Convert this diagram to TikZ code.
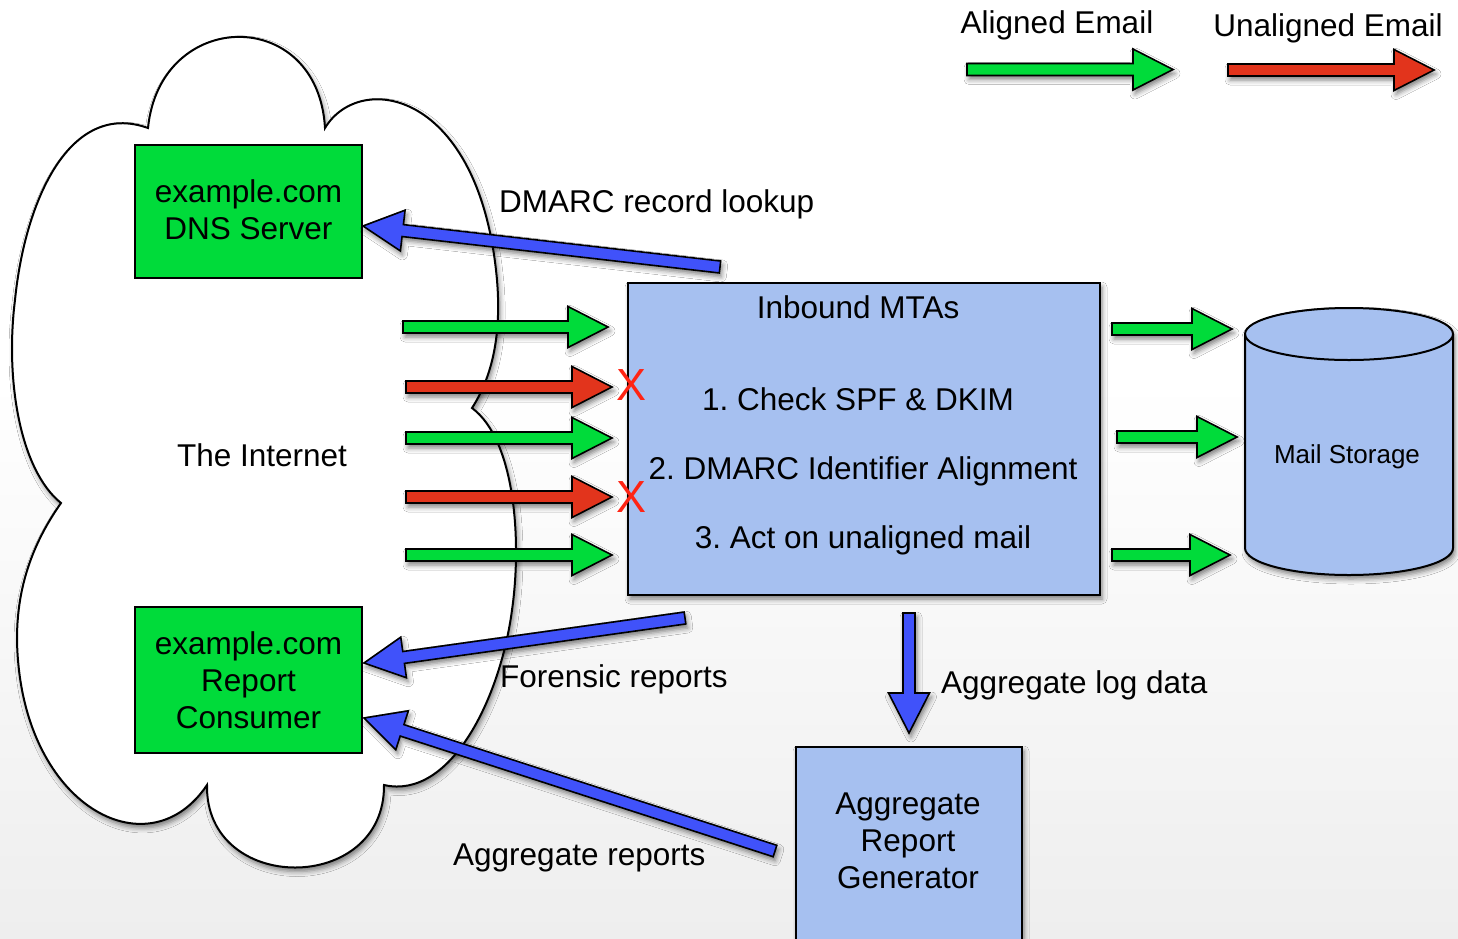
\documentclass[tikz,border=0pt]{standalone}
\usepackage{fontspec}
\setmainfont{Liberation Sans}
\usetikzlibrary{calc,shadows.blur}
\frenchspacing

\definecolor{mailgreen}{RGB}{0,219,58}
\definecolor{mailred}{RGB}{226,52,28}
\definecolor{flowblue}{RGB}{64,82,250}
\definecolor{hostblue}{RGB}{166,192,240}
\definecolor{rejectred}{RGB}{255,36,20}
\definecolor{floorgray}{RGB}{238,238,238}

\tikzset{
  lbl/.style={font=\fontsize{31.5}{37}\selectfont, inner sep=0pt},
  smalllbl/.style={font=\fontsize{26}{30}\selectfont, inner sep=0pt},
  soft/.style={blur shadow={shadow xshift=2pt, shadow yshift=-4pt,
      shadow blur radius=5pt, shadow opacity=50}},
  hostbox/.style={draw=black, line width=2pt, fill=mailgreen, align=center,
      lbl, minimum width=227, minimum height=133},
  mtabox/.style={draw=black, line width=2pt, fill=hostblue, soft},
  arrowbody/.style={draw=black, line width=1.6pt, line join=miter, soft},
  reject/.style={text=rejectred, font=\fontsize{45}{45}\selectfont, inner sep=0pt},
}

% block arrow: #1 fill colour, #2 tail coordinate, #3 tip coordinate
\newcommand\blockarrow[3]{%
  \coordinate (ba-h) at ($(#3)!40pt!(#2)$);
  \filldraw[arrowbody, fill=#1]
    ($(#2)!6pt!90:(#3)$) -- ($(ba-h)!6pt!90:(#3)$) -- ($(ba-h)!20.5pt!90:(#3)$)
    -- (#3)
    -- ($(ba-h)!20.5pt!-90:(#3)$) -- ($(ba-h)!6pt!-90:(#3)$) -- ($(#2)!6pt!-90:(#3)$)
    -- cycle;
}

\begin{document}
\begin{tikzpicture}[x=1pt,y=-1pt]
\useasboundingbox (0,0) rectangle (1458,938);
\clip (0,0) rectangle (1458,938);

% background
\fill[white] (0,0) rectangle (1458,938);
\shade[top color=white, bottom color=floorgray] (0,380) rectangle (1458,938);

% the internet cloud
\draw[line width=2pt, fill=white, soft]
  (148,128) .. controls (160,8) and (318,5) .. (325,128)
  .. controls (360,70) and (480,90) .. (497,280)
  .. controls (502,340) and (490,380) .. (472,408)
  .. controls (515,440) and (522,540) .. (512,610)
  .. controls (500,700) and (450,800) .. (384,785)
  .. controls (385,895) and (205,895) .. (207,785)
  .. controls (150,870) and (30,810) .. (18,660)
  .. controls (12,590) and (35,540) .. (61,503)
  .. controls (20,470) and (5,380) .. (15,300)
  .. controls (25,200) and (70,100) .. (148,128) -- cycle;

\node[lbl, anchor=base] (internet) at (262,466) {The Internet};

% hosts inside the cloud
\node[hostbox] (dns) at (248.5,211.5) {};
\node[lbl, align=center] (dnsText) at (248.5,209.5) {example.com\\DNS Server};
\node[hostbox, minimum height=146] (consumer) at (248.5,680) {example.com\\Report\\Consumer};

% receiving side
\node[mtabox, minimum width=472, minimum height=312] (mta) at (864,439) {};
\node[lbl, anchor=base] (mtaTitle) at (858,318) {Inbound MTAs};
\node[lbl, anchor=base] (step1) at (858,410) {1. Check SPF \& DKIM};
\node[lbl, anchor=base] (step2) at (863,479) {2. DMARC Identifier Alignment};
\node[lbl, anchor=base] (step3) at (863,548) {3. Act on unaligned mail};

\node[mtabox, minimum width=226, minimum height=240] (gen) at (909,867) {};
\node[lbl, align=center] (genText) at (908,841) {Aggregate\\Report\\Generator};

% mail storage cylinder
\draw[line width=2pt, fill=hostblue, soft]
  (1245,334) -- (1245,548) arc[start angle=180, end angle=0, x radius=104, y radius=27]
  -- (1453,334) arc[start angle=0, end angle=-180, x radius=104, y radius=26] -- cycle;
\draw[line width=2pt] (1245,334) arc[start angle=180, end angle=0, x radius=104, y radius=26];
\node[smalllbl, anchor=base] (storage) at (1347,463) {Mail Storage};

% legend
\node[lbl, anchor=base] (legAligned) at (1057,33) {Aligned Email};
\node[lbl, anchor=base] (legUnaligned) at (1328,36) {Unaligned Email};
\coordinate (legGreenA) at (967,69.5);  \coordinate (legGreenB) at (1173,69.5);
\coordinate (legRedA)   at (1228,70);   \coordinate (legRedB)   at (1434,70);
\blockarrow{mailgreen}{legGreenA}{legGreenB}
\blockarrow{mailred}{legRedA}{legRedB}

% incoming mail
\coordinate (in1a) at (403,327); \coordinate (in1b) at (608,327);
\coordinate (in2a) at (406,387); \coordinate (in2b) at (612,387);
\coordinate (in3a) at (406,438); \coordinate (in3b) at (612,438);
\coordinate (in4a) at (406,497); \coordinate (in4b) at (612,497);
\coordinate (in5a) at (406,555); \coordinate (in5b) at (612,555);
\blockarrow{mailgreen}{in1a}{in1b}
\blockarrow{mailred}{in2a}{in2b}
\blockarrow{mailgreen}{in3a}{in3b}
\blockarrow{mailred}{in4a}{in4b}
\blockarrow{mailgreen}{in5a}{in5b}
\node[reject] (x1) at (631,385) {X};
\node[reject] (x2) at (631,497) {X};

% delivered mail
\coordinate (out1a) at (1112,329); \coordinate (out1b) at (1232,329);
\coordinate (out2a) at (1117,437); \coordinate (out2b) at (1237,437);
\coordinate (out3a) at (1112,555); \coordinate (out3b) at (1230,555);
\blockarrow{mailgreen}{out1a}{out1b}
\blockarrow{mailgreen}{out2a}{out2b}
\blockarrow{mailgreen}{out3a}{out3b}

% DMARC traffic
\coordinate (lookupA) at (720,267);    \coordinate (lookupB) at (363,226);
\coordinate (forensicA) at (685,618);  \coordinate (forensicB) at (364,663);
\coordinate (aggA) at (775,851);       \coordinate (aggB) at (364,718);
\coordinate (logA) at (909,613);       \coordinate (logB) at (909,733);
\blockarrow{flowblue}{lookupA}{lookupB}
\blockarrow{flowblue}{forensicA}{forensicB}
\blockarrow{flowblue}{aggA}{aggB}
\blockarrow{flowblue}{logA}{logB}

\node[lbl, anchor=base west] (lookupLbl) at (499,212) {DMARC record lookup};
\node[lbl, anchor=base west] (forensicLbl) at (500,687) {Forensic reports};
\node[lbl, anchor=base west] (logLbl) at (941,693) {Aggregate log data};
\node[lbl, anchor=base west] (aggLbl) at (453,865) {Aggregate reports};
\end{tikzpicture}
\end{document}
